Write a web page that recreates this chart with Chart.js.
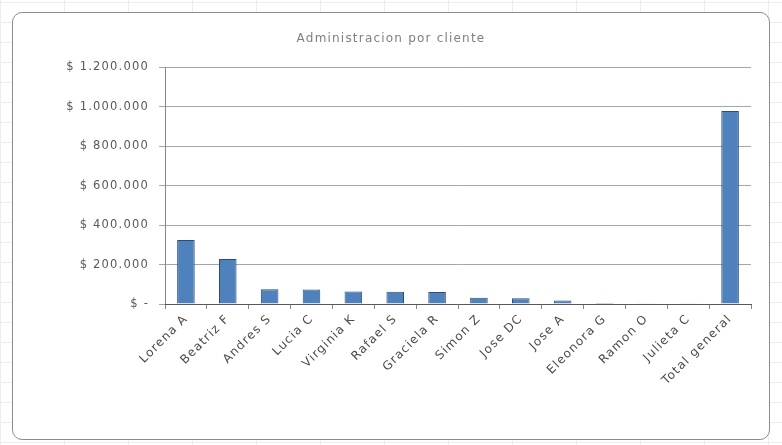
<!DOCTYPE html>
<html>
<head>
<meta charset="utf-8">
<script src="https://cdn.jsdelivr.net/npm/chart.js@4"></script>
<style>
    body {
        margin: 0;
        width: 782px;
        height: 445px;
        background-color: #fff;
        background-image:
            linear-gradient(to bottom, #ececec 1px, transparent 1px),
            linear-gradient(to right, #ececec 1px, transparent 1px);
        background-size: 64px 20px;
        background-position: 0 2px;
        overflow: hidden;
    }
    #box {
        position: absolute;
        left: 12px;
        top: 12px;
        width: 756px;
        height: 426px;
        border: 1px solid #8c8c8c;
        border-radius: 10px;
        background: #fff;
    }
</style>
</head>
<body>
<div id="box"><canvas id="chart1" width="756" height="426"></canvas></div>
<script>
const clientes = ['Lorena A', 'Beatriz F', 'Andres S', 'Lucia C', 'Virginia K', 'Rafael S', 'Graciela R', 'Simon Z', 'Jose DC', 'Jose A', 'Eleonora G', 'Ramon O', 'Julieta C', 'Total general']
const montos = [325000, 228000, 75000, 73000, 63000, 62000, 61000, 32000, 29000, 18000, 5000, 4000, 4000, 979000]
const yTicks = [0, 200000, 400000, 600000, 800000, 1000000, 1200000]

Chart.defaults.font.family = '"DejaVu Sans", Verdana, sans-serif'
Chart.defaults.color = '#595959'

function pesos(v) {
    if (v === 0) return '$ -'
    return '$ ' + v.toString().replace(/\B(?=(\d{3})+(?!\d))/g, '.')
}

// Excel-like wide letter spacing for all texts
const spacing = {
    id: 'spacing',
    beforeUpdate: chart => { chart.ctx.letterSpacing = '1.2px' },
    beforeDraw: chart => { chart.ctx.letterSpacing = '1.2px' }
}

let data = {
    labels: clientes,
    datasets: [{
        data: montos,
        backgroundColor: '#4f81bd',
        borderColor: '#2c4d75',
        borderWidth: 1,
        barPercentage: 0.42,
        categoryPercentage: 1
    }]
}

let options = {
    responsive: false,
    animation: false,
    layout: { padding: { left: 18, right: 18, top: 0, bottom: 0 } },
    plugins: {
        legend: { display: false },
        tooltip: { enabled: false },
        title: {
            display: true,
            text: 'Administracion por cliente',
            color: '#7f7f7f',
            font: { size: 12, weight: 'normal' },
            padding: { top: 19, bottom: 21 }
        }
    },
    scales: {
        y: {
            min: 0,
            max: 1200000,
            afterBuildTicks: axis => { axis.ticks = yTicks.map(v => ({ value: v })) },
            afterFit: axis => { axis.width = 134 },
            ticks: { callback: v => pesos(v), font: { size: 11.5 }, padding: 10 },
            grid: { color: '#a6a6a6', tickLength: 6 },
            border: { color: '#868686' }
        },
        x: {
            afterFit: axis => { axis.height = 135 },
            ticks: { minRotation: 45, maxRotation: 45, font: { size: 12 }, color: '#4a4a4a' },
            grid: { drawOnChartArea: false, tickLength: 5, color: '#868686', offset: true },
            border: { color: '#595959' }
        }
    }
}

new Chart('chart1', { type: 'bar', data, options, plugins: [spacing] })
</script>
</body>
</html>
